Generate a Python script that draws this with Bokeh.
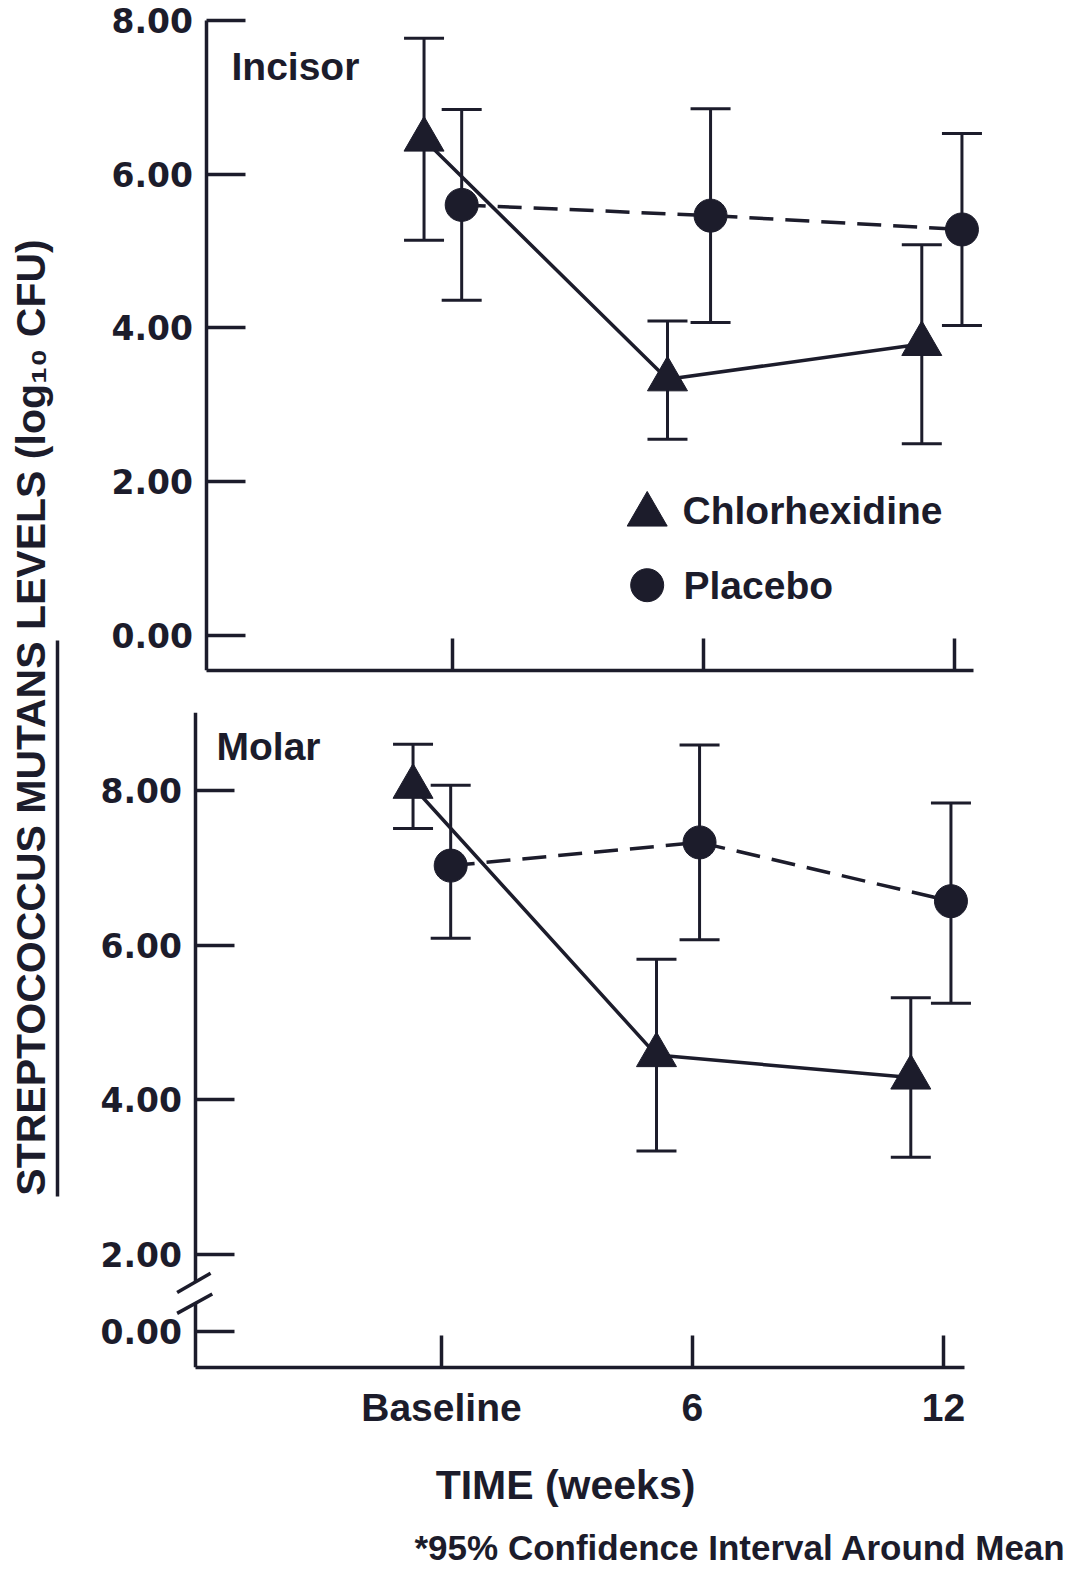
import numpy as np
from bokeh.plotting import figure
from bokeh.models import (ColumnDataSource, Range1d, FixedTicker, PrintfTickFormatter,
                          Whisker, TeeHead, Label, Arrow)
from bokeh.layouts import row, column
from bokeh.embed import file_html
from bokeh.resources import INLINE

# ---------------- data ----------------
weeks = [0, 6, 12]
week_labels = ["Baseline", "6", "12"]
chlor_x = [-0.68, 5.14, 11.22]      # plotted slightly left of each time point
placebo_x = [0.22, 6.17, 12.18]     # plotted slightly right of each time point

# Incisor (log10 CFU), mean and 95% CI
inc_chlor_mean = [6.45, 3.33, 3.79]
inc_chlor_low = [5.14, 2.55, 2.49]
inc_chlor_high = [7.77, 4.09, 5.08]
inc_plac_mean = [5.60, 5.46, 5.28]
inc_plac_low = [4.36, 4.07, 4.03]
inc_plac_high = [6.84, 6.85, 6.53]

# Molar (log10 CFU), mean and 95% CI
mol_chlor_mean = [8.05, 4.58, 4.29]
mol_chlor_low = [7.51, 3.34, 3.26]
mol_chlor_high = [8.60, 5.82, 5.32]
mol_plac_mean = [7.03, 7.33, 6.57]
mol_plac_low = [6.09, 6.07, 5.25]
mol_plac_high = [8.07, 8.59, 7.84]

inc_ticks = [0, 2, 4, 6, 8]
mol_ticks = [1, 2, 4, 6, 8]          # 1 is where the broken axis shows "0.00"
mol_tick_overrides = {1: "0.00"}

INK = "#1c1c2b"
TICK_FONT = "DejaVu Sans"
TXT_FONT = "Liberation Sans"
Y_AXIS_AT = -5.88


def make_panel(height, x0, x1, x_axis_end, mb_top, mb_bottom, y0, y1, y_axis_bounds, yticks):
    p = figure(width=1023, height=height,
               x_range=Range1d(x0, x1), y_range=Range1d(y0, y1),
               y_axis_location="right",
               min_border_left=20, min_border_right=33,
               min_border_top=mb_top, min_border_bottom=mb_bottom,
               toolbar_location=None, output_backend="svg",
               background_fill_color="white", border_fill_color="white",
               outline_line_color=None)
    p.grid.visible = False
    ya = p.yaxis[0]
    ya.fixed_location = Y_AXIS_AT
    ya.bounds = y_axis_bounds
    ya.ticker = FixedTicker(ticks=yticks)
    ya.formatter = PrintfTickFormatter(format="%.2f")
    ya.axis_line_width = 3.5
    ya.axis_line_color = INK
    ya.major_tick_in = 0
    ya.major_tick_out = 39
    ya.major_tick_line_width = 3.5
    ya.major_tick_line_color = INK
    ya.minor_tick_line_color = None
    ya.major_label_text_font = TICK_FONT
    ya.major_label_text_font_style = "bold"
    ya.major_label_text_font_size = "33px"
    ya.major_label_text_color = INK
    ya.major_label_standoff = -134
    xa = p.xaxis[0]
    xa.bounds = (Y_AXIS_AT, x_axis_end)
    xa.ticker = FixedTicker(ticks=weeks)
    xa.axis_line_width = 3.5
    xa.axis_line_color = INK
    xa.major_tick_in = 32
    xa.major_tick_out = 0
    xa.major_tick_line_width = 3.5
    xa.major_tick_line_color = INK
    xa.minor_tick_line_color = None
    return p


def add_series(p, xs, mean, low, high, marker, size, dash):
    p.line(xs, mean, line_width=3.5, line_color=INK, line_dash=dash)
    src = ColumnDataSource(dict(x=xs, lo=low, hi=high))
    p.add_layout(Whisker(source=src, base="x", lower="lo", upper="hi", dimension="height",
                         line_color=INK, line_width=3,
                         upper_head=TeeHead(size=40, line_width=3, line_color=INK),
                         lower_head=TeeHead(size=40, line_width=3, line_color=INK)))
    p.scatter(xs, mean, marker=marker, size=size, fill_color=INK, line_color=INK)


def text_label(p, x, y, txt, size="39px"):
    p.add_layout(Label(x=x, y=y, x_units="screen", y_units="screen", text=txt,
                       text_font=TXT_FONT, text_font_style="bold", text_font_size=size,
                       text_color=INK, text_baseline="middle", text_align="left"))


# ---------------- top panel: Incisor ----------------
top = make_panel(690, -8.893, 14.297, 12.46, 0, 20, -0.46, 8.26, (-0.46, 8.0), inc_ticks)
top.xaxis[0].major_label_overrides = {w: "" for w in weeks}
top.xaxis[0].major_label_text_font_size = "1px"
top.xaxis[0].major_label_standoff = 0
add_series(top, placebo_x, inc_plac_mean, inc_plac_low, inc_plac_high, "circle", 33, "24 12")
add_series(top, chlor_x, inc_chlor_mean, inc_chlor_low, inc_chlor_high, "triangle", 40, "solid")
text_label(top, 151, 604, "Incisor")

# legend (keys + labels)
legend_key_x = 4.655
top.scatter([legend_key_x], [1.57], marker="triangle", size=40, fill_color=INK, line_color=INK)
top.scatter([legend_key_x], [0.65], marker="circle", size=33, fill_color=INK, line_color=INK)
text_label(top, 602, 160, "Chlorhexidine")
text_label(top, 603, 85, "Placebo")

# ---------------- bottom panel: Molar ----------------
bot = make_panel(835, -8.630, 14.560, 12.5, 22, 158, 0.54, 9.01, (0.54, 9.01), mol_ticks)
bot.yaxis[0].major_label_overrides = mol_tick_overrides
xa = bot.xaxis[0]
xa.major_label_overrides = dict(zip(weeks, week_labels))
xa.major_label_text_font = TXT_FONT
xa.major_label_text_font_style = "bold"
xa.major_label_text_font_size = "39px"
xa.major_label_text_color = INK
xa.major_label_standoff = 18
xa.axis_label = "TIME (weeks)"
xa.axis_label_text_font = TXT_FONT
xa.axis_label_text_font_style = "bold"
xa.axis_label_text_font_size = "41px"
xa.axis_label_text_color = INK
xa.axis_label_standoff = 30
add_series(bot, placebo_x, mol_plac_mean, mol_plac_low, mol_plac_high, "circle", 33, "24 12")
add_series(bot, chlor_x, mol_chlor_mean, mol_chlor_low, mol_chlor_high, "triangle", 40, "solid")
text_label(bot, 136, 621, "Molar")

# axis break marks
bot.add_layout(Arrow(end=None, x_start=Y_AXIS_AT, y_start=1.37, x_end=Y_AXIS_AT, y_end=1.65,
                     line_color="white", line_width=9))
bot.add_layout(Arrow(end=None, x_start=-6.32, y_start=1.51, x_end=-5.52, y_end=1.76,
                     line_color=INK, line_width=3.5))
bot.add_layout(Arrow(end=None, x_start=-6.32, y_start=1.24, x_end=-5.48, y_end=1.49,
                     line_color=INK, line_width=3.5))

# ---------------- shared y-axis title ----------------
H_MAIN = 1525
ttl = figure(width=60, height=H_MAIN, x_range=Range1d(0, 60), y_range=Range1d(0, H_MAIN),
             x_axis_type=None, y_axis_type=None, min_border=0,
             toolbar_location=None, output_backend="svg",
             background_fill_color="white", border_fill_color="white",
             outline_line_color=None)
ttl.add_layout(Label(x=30, y=H_MAIN - 717, text="STREPTOCOCCUS MUTANS LEVELS (log\u2081\u2080 CFU)",
                     angle=np.pi / 2, text_align="center", text_baseline="middle",
                     text_font=TXT_FONT, text_font_style="bold",
                     text_font_size="41px", text_color=INK))
ttl.segment(x0=[57], y0=[H_MAIN - 1196], x1=[57], y1=[H_MAIN - 640],
            line_width=3.5, line_color=INK)

# ---------------- footnote ----------------
note = figure(width=1083, height=45, x_range=Range1d(0, 1083), y_range=Range1d(0, 45),
              x_axis_type=None, y_axis_type=None, min_border=0,
              toolbar_location=None, output_backend="svg",
              background_fill_color="white", border_fill_color="white",
              outline_line_color=None)
note.add_layout(Label(x=414, y=23, text="*95% Confidence Interval Around Mean",
                      text_align="left", text_baseline="middle",
                      text_font=TXT_FONT, text_font_style="bold",
                      text_font_size="35px", text_color=INK))

layout = column(row(ttl, column(top, bot)), note)
open("out.html", "w").write(file_html(layout, INLINE))
